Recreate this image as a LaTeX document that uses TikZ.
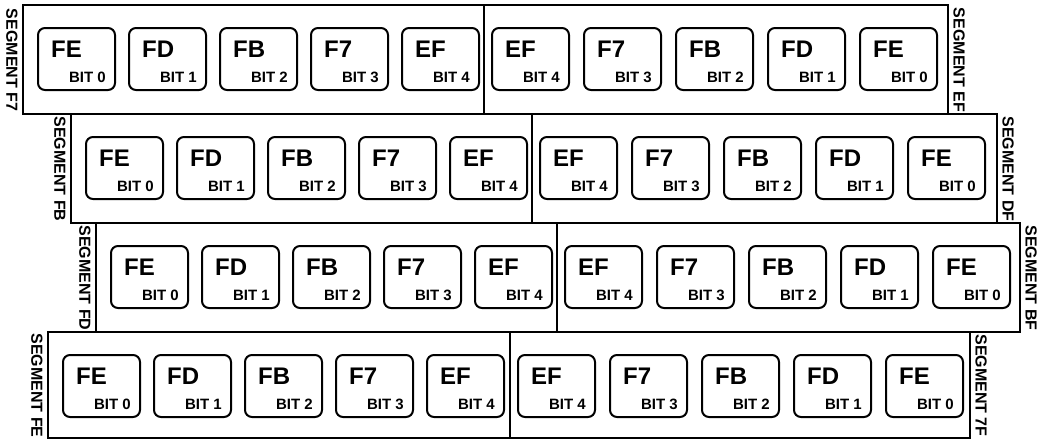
\documentclass[tikz,border=0pt]{standalone}
\usepackage{fontspec}
\setmainfont{Liberation Sans}
\begin{document}
\begin{tikzpicture}[x=1pt,y=-1pt,
  rowframe/.style={line width=2pt},
  bitbox/.style={draw,line width=2pt,rounded corners=7pt,minimum width=77pt,minimum height=62pt,inner sep=0pt,anchor=north west},
  hexlbl/.style={font=\bfseries\fontsize{24}{24}\selectfont,anchor=base west,inner sep=0pt},
  bitlbl/.style={font=\bfseries\fontsize{15}{15}\selectfont,anchor=base east,inner sep=0pt},
  seglbl/.style={font=\bfseries\fontsize{16}{16}\selectfont,rotate=-90,inner sep=0pt}]
\useasboundingbox (0,0) rectangle (1047,440);
\foreach \r/\top/\bot/\lft/\rgt/\dv/\la/\lb in
  {1/5/114/23/948/484/F7/EF, 2/114/223/71/997/532/FB/DF,
   3/223/332/96/1020/557/FD/BF, 4/332/438/48/970/510/FE/7F} {
  \draw[rowframe] (\lft,\top) rectangle (\rgt,\bot);
  \draw[rowframe] (\dv,\top) -- (\dv,\bot);
  \node[seglbl] (sl\r) at ({\lft-11}, {(\top+\bot)/2+0.5}) {SEGMENT \la};
  \node[seglbl] (sr\r) at ({\rgt+11}, {(\top+\bot)/2+0.5}) {SEGMENT \lb};
  \foreach \i/\h in {0/FE,1/FD,2/FB,3/F7,4/EF} {
    \node[bitbox] (b\r l\i) at ({\lft+14+91*\i}, {\top+22}) {};
    \node[hexlbl] (h\r l\i) at ({\lft+28+91*\i}, {\top+52}) {\h};
    \node[bitlbl] (t\r l\i) at ({\lft+14+91*\i+69}, {\top+77.5}) {BIT \i};
  }
  \foreach \i/\h/\n in {0/EF/4,1/F7/3,2/FB/2,3/FD/1,4/FE/0} {
    \node[bitbox] (b\r r\i) at ({\dv+7+92*\i}, {\top+22}) {};
    \node[hexlbl] (h\r r\i) at ({\dv+21+92*\i}, {\top+52}) {\h};
    \node[bitlbl] (t\r r\i) at ({\dv+7+92*\i+69}, {\top+77.5}) {BIT \n};
  }
}
\end{tikzpicture}
\end{document}
